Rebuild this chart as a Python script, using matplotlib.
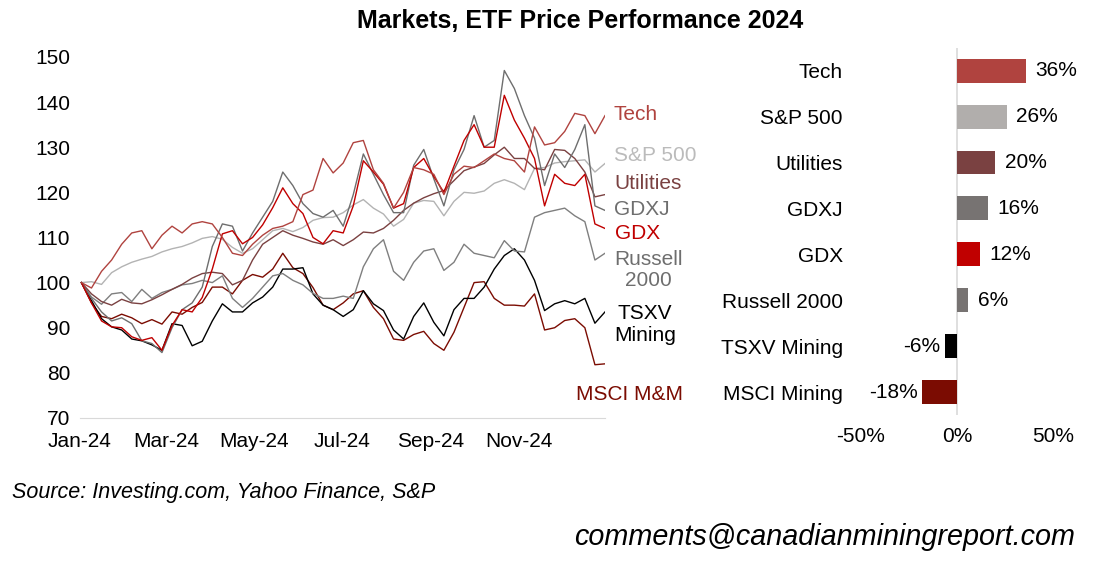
import numpy as np
import pandas as pd
import matplotlib
matplotlib.use('Agg')
import matplotlib.pyplot as plt
import matplotlib.dates as mdates

plt.rcParams['font.family'] = ['Liberation Sans', 'DejaVu Sans']

# weekly closes, rebased to 100 on Jan 2, 2024
dates = pd.date_range('2024-01-02', periods=53, freq='7D')

tech = [100, 98.8, 102.5, 105, 108.5, 111, 111.5, 107.5, 110.5, 112.5, 111, 113, 113.5,
        113, 110, 106.5, 106, 108.5, 110.5, 112, 112.5, 113.5, 119.5, 120.5, 127.5, 124.3,
        126.5, 131, 131.5, 125, 122, 116.5, 120, 125.5, 125, 124, 119.5, 124, 125.8,
        125.5, 127, 128.5, 127.5, 127, 124.5, 134.5, 130.5, 131, 133.5, 137.5, 137, 133, 137]
sp500 = [100, 100.2, 99.6, 102.2, 103.5, 104.5, 105.2, 105.8, 106.8, 107.5, 108, 108.8, 109.8,
         110.2, 109.6, 107.8, 106.5, 107.5, 109.5, 111.5, 112, 111.3, 112.2, 113.8, 114.4, 114.5,
         115.5, 117.2, 118.4, 116.5, 115.2, 112.5, 114, 117.6, 118.2, 118, 114.8, 118, 120,
         119.8, 120.3, 122, 122.8, 122, 120.6, 125.3, 125.5, 126.5, 126.8, 127, 127.2, 124.5, 126.4]
utilities = [100, 97.5, 95.8, 95, 96.3, 95.5, 95.3, 96.2, 97.3, 98.5, 99.6, 101, 102,
             102.3, 102, 99.5, 100.5, 105, 108.5, 110, 111.5, 110.5, 109.8, 109, 108.5, 109.5,
             108.2, 109.5, 111.2, 111, 112, 113.8, 116, 117.6, 118.8, 119.7, 120.4, 122.6, 124.8,
             125.6, 126.4, 128.3, 130, 127.5, 127.5, 125.3, 125, 129.5, 129.3, 127.5, 124.5, 119, 119.5]
gdxj = [100, 96.5, 93.5, 91.5, 92.2, 90.9, 87.1, 86.5, 84.5, 90, 94, 95.5, 99,
        108, 113, 112.5, 107, 111, 114.5, 118, 124.5, 121.5, 117.5, 115.3, 114.5, 116,
        112.5, 119.5, 128.5, 124, 119.5, 115.5, 115.5, 126, 129.5, 123, 117, 125, 129.5,
        137, 130, 131.5, 147, 143, 137, 132, 121.5, 128.5, 125.5, 129.5, 135, 117, 116]
gdx = [100, 95.5, 91.5, 90.2, 90, 88, 87.2, 87.8, 85, 90.5, 94, 93.5, 96.7,
       103, 110.8, 111.5, 108.6, 110, 112.8, 116.6, 121, 117.5, 115.3, 110, 108.6, 111.5,
       111, 117, 127, 124.5, 121.8, 116.5, 117.5, 125.5, 127.5, 123.5, 120, 125.8, 131.5,
       135, 130, 130, 141.5, 136, 132, 127.5, 117, 124, 122, 121.5, 124, 113, 112]
russell = [100, 96.8, 95.2, 97.5, 97.8, 95.8, 98.5, 96.5, 97.8, 98.5, 99.5, 99.8, 100.5,
           100, 101.5, 96.5, 94.5, 96.5, 99, 101.5, 102, 100.5, 99.5, 97.6, 96.5, 96.5,
           97, 96.5, 103.5, 107.5, 109.5, 102.5, 100.5, 104.5, 107, 107.5, 102.7, 104.5, 108.5,
           106.5, 106, 105.5, 109.3, 107, 106.8, 114.5, 115.5, 116, 116.5, 114.8, 113.5, 105, 106.5]
tsxv = [100, 96, 92, 90.2, 89.5, 87.5, 87.1, 86.2, 85, 90.9, 90.5, 86, 87,
        91.5, 95.3, 93.5, 93.5, 95.5, 96.8, 99, 103, 103, 103.3, 97.5, 95, 94,
        92.5, 94, 98.2, 95.3, 93.8, 89.5, 87.5, 92.5, 95.5, 91.2, 88.2, 94, 96.5,
        96.5, 99, 103, 106, 107.5, 105, 100.5, 93.8, 95.3, 96, 95.3, 96.5, 91, 93.5]
msci = [100, 95.5, 92.5, 92, 93, 92.2, 90.9, 91.8, 90.8, 93.5, 93, 94.5, 95.6,
        99, 99, 97.5, 100.5, 101.8, 101.2, 103, 106.5, 103.3, 102, 98.9, 95, 94,
        95.5, 97.5, 98.2, 94.5, 92, 87.5, 87.2, 88.5, 89.2, 86.5, 85, 89, 94.5,
        100, 100.2, 96.5, 95, 95, 94.8, 97.5, 89.5, 90, 91.6, 92, 90, 81.8, 82]

# 2024 total returns, %
bar_names = ['Tech', 'S&P 500', 'Utilities', 'GDXJ', 'GDX', 'Russell 2000', 'TSXV Mining', 'MSCI Mining']
bar_values = [36, 26, 20, 16, 12, 6, -6, -18]

TECH_C = '#B0433F'
SP_C = '#B3B3B3'
UTIL_C = '#7A4141'
GDXJ_C = '#6E6E6E'
GDX_C = '#C00000'
RUSS_C = '#7F7F7F'
TSXV_C = '#000000'
MSCI_C = '#7B0C02'
bar_colors = [TECH_C, '#B1AEAC', UTIL_C, '#777372', GDX_C, '#777372', TSXV_C, MSCI_C]

FS = 15

fig = plt.figure(figsize=(11.03, 5.65), dpi=100)
fig.text(0.526, 0.963, 'Markets, ETF Price Performance 2024', ha='center', va='center',
         fontsize=18, fontweight='bold')

# line chart
ax = fig.add_axes([0.0725, 0.2602, 0.476, 0.639])
series = [(msci, MSCI_C), (tsxv, TSXV_C), (russell, RUSS_C), (sp500, SP_C),
          (utilities, UTIL_C), (gdxj, GDXJ_C), (gdx, GDX_C), (tech, TECH_C)]
for vals, c in series:
    ax.plot(dates, vals, color=c, lw=1.0)

ax.set_ylim(70, 150)
ax.set_yticks(range(70, 151, 10))
ax.set_xlim(dates[0], dates[-1])
month_ticks = pd.to_datetime(['2024-01-01', '2024-03-01', '2024-05-01', '2024-07-01',
                              '2024-09-01', '2024-11-01'])
ax.set_xticks(month_ticks)
ax.xaxis.set_major_formatter(mdates.DateFormatter('%b-%y'))
ax.tick_params(length=0, labelsize=FS, pad=7)
ax.tick_params(axis='x', pad=10)
for s in ['top', 'right', 'left']:
    ax.spines[s].set_visible(False)
ax.spines['bottom'].set_color('#D9D9D9')

labels = [('Tech', 137.3, TECH_C, 1.017, 'left'),
          ('S&P 500', 128.2, '#BBBBBB', 1.017, 'left'),
          ('Utilities', 122.0, UTIL_C, 1.017, 'left'),
          ('GDXJ', 116.2, GDXJ_C, 1.017, 'left'),
          ('GDX', 110.9, GDX_C, 1.02, 'left'),
          ('Russell\n2000', 102.8, '#6E6E6E', 1.017, 'left'),
          ('TSXV\nMining', 90.7, TSXV_C, 1.017, 'left'),
          ('MSCI M&M', 75.2, MSCI_C, 1.149, 'right')]
for txt, y, c, x, ha in labels:
    ax.text(x, y, txt, color=c, fontsize=FS, ha=ha, va='center', ma='center',
            linespacing=1.15, transform=ax.get_yaxis_transform(), clip_on=False)

# bar chart
bx = fig.add_axes([0.7806, 0.2655, 0.174, 0.65])
ypos = np.arange(len(bar_names))
bx.barh(ypos, bar_values, height=0.52, color=bar_colors)
bx.set_ylim(len(bar_names) - 0.5, -0.5)
bx.set_xlim(-50, 50)
bx.set_xticks([-50, 0, 50])
bx.set_xticklabels(['-50%', '0%', '50%'])
bx.set_yticks(ypos)
bx.set_yticklabels(bar_names)
bx.tick_params(length=0, labelsize=FS)
bx.tick_params(axis='y', pad=13)
bx.tick_params(axis='x', pad=9)
for s in bx.spines.values():
    s.set_visible(False)
bx.axvline(0, color='#D9D9D9', lw=1.2, zorder=0)
for y, v in zip(ypos, bar_values):
    if v >= 0:
        bx.text(v + 5, y, f'{v}%', va='center', ha='left', fontsize=FS)
    else:
        bx.text(v - 2.5, y, f'{v}%', va='center', ha='right', fontsize=FS)

fig.text(0.011, 0.128, 'Source: Investing.com, Yahoo Finance, S&P', fontsize=15.5,
         style='italic', va='center')
fig.text(0.975, 0.05, 'comments@canadianminingreport.com', fontsize=20.7,
         style='italic', ha='right', va='center')

fig.savefig('out.png', dpi=100)
